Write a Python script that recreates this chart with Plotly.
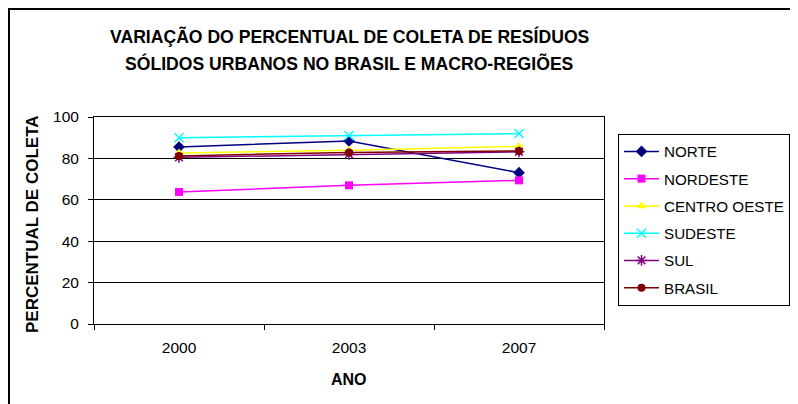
import plotly.graph_objects as go

anos = ["2000", "2003", "2007"]
norte = [85.5, 88.4, 73.1]
nordeste = [63.8, 67.0, 69.4]
centro_oeste = [82.6, 83.9, 85.8]
sudeste = [90.0, 91.1, 92.0]
sul = [80.5, 82.0, 83.2]
brasil = [81.2, 82.9, 83.6]

series = [
    ("NORTE", norte, "#000080", "diamond", 9),
    ("NORDESTE", nordeste, "#FF00FF", "square", 8),
    ("CENTRO OESTE", centro_oeste, "#FFFF00", "triangle-up", 9),
    ("SUDESTE", sudeste, "#00FFFF", "x-thin-open", 9),
    ("SUL", sul, "#800080", "asterisk-open", 9),
    ("BRASIL", brasil, "#800000", "circle", 8),
]

fig = go.Figure()
for name, vals, color, sym, size in series:
    marker = dict(symbol=sym, size=size, color=color)
    if sym.endswith("open"):
        marker["line"] = dict(color=color, width=1.5)
    fig.add_trace(go.Scatter(
        x=anos, y=vals, name=name, mode="lines+markers",
        line=dict(color=color, width=1.5), marker=marker,
        legendgroup=name,
    ))

# page body has an 8px margin: work in screen pixels, shift by OFF
OFF = 8
W, H = 798 - OFF, 404 - OFF
L, R, T, B = 94 - OFF, 604 - OFF, 117 - OFF, 324 - OFF
pw, ph = R - L, B - T

def px_x(x):
    return (x - OFF - L) / pw

def px_y(y):
    return (B - (y - OFF)) / ph

FONT = "Liberation Sans, Arial, sans-serif"

fig.update_layout(
    width=W, height=H,
    margin=dict(l=L, r=W - R, t=T, b=H - B, pad=0, autoexpand=False),
    paper_bgcolor="white", plot_bgcolor="white",
    font=dict(family=FONT, size=15.5, color="black"),
    showlegend=True,
    legend=dict(
        x=px_x(618), y=px_y(134), xanchor="left", yanchor="top",
        bordercolor="black", borderwidth=1, bgcolor="white",
        font=dict(size=15.2, color="black"),
        itemwidth=35,
        tracegroupgap=4.5, traceorder="grouped",
    ),
    xaxis=dict(
        type="category", range=[-0.5, 2.5], showgrid=False, showline=True,
        linecolor="black", linewidth=1, mirror=True, ticks="outside",
        tickson="boundaries", ticklen=5, tickcolor="black", zeroline=False,
        ticklabelstandoff=9,
    ),
    yaxis=dict(
        range=[0, 100], dtick=20, showgrid=True, gridcolor="black", gridwidth=1,
        showline=True, linecolor="black", linewidth=1, mirror=True,
        ticks="outside", ticklen=5, tickcolor="black", zeroline=False,
        ticklabelstandoff=6,
    ),
    annotations=[
        dict(text="<b>VARIAÇÃO DO PERCENTUAL DE COLETA DE RESÍDUOS</b>",
             xref="paper", yref="paper", x=px_x(350), y=px_y(36),
             xanchor="center", yanchor="middle", showarrow=False,
             font=dict(size=17.6)),
        dict(text="<b>SÓLIDOS URBANOS NO BRASIL E MACRO-REGIÕES</b>",
             xref="paper", yref="paper", x=px_x(349), y=px_y(64),
             xanchor="center", yanchor="middle", showarrow=False,
             font=dict(size=17.6)),
        dict(text="<b>PERCENTUAL DE COLETA</b>", textangle=-90,
             xref="paper", yref="paper", x=px_x(32), y=px_y(224),
             xanchor="center", yanchor="middle", showarrow=False,
             font=dict(size=17)),
        dict(text="<b>ANO</b>",
             xref="paper", yref="paper", x=px_x(349), y=px_y(379),
             xanchor="center", yanchor="middle", showarrow=False,
             font=dict(size=16)),
    ],
    shapes=[
        dict(type="rect", xref="paper", yref="paper",
             x0=px_x(9), y0=px_y(480), x1=px_x(900), y1=px_y(9),
             line=dict(color="black", width=2), layer="below"),
    ],
)

fig.write_html("out.html")
